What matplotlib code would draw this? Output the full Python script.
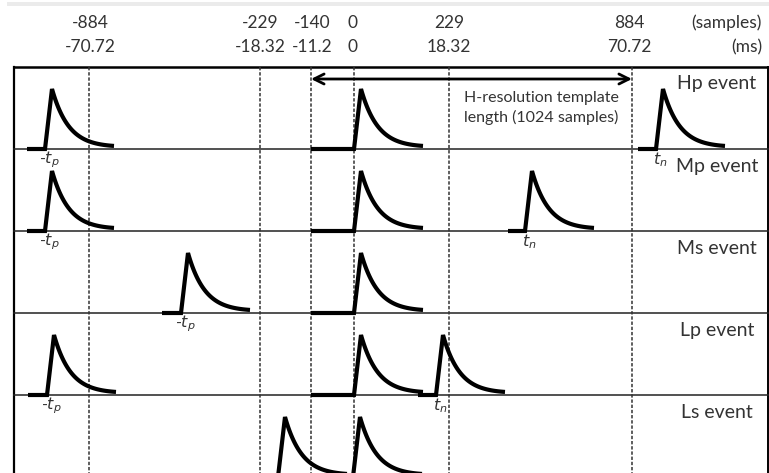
"""
Esquema de eventos (Hp, Mp, Ms, Lp, Ls) y ventana de plantilla H-resolution
"""

import numpy as np
import matplotlib.pyplot as plt

# Datos
muestras = ['-884', '-229', '-140', '0', '229', '884']
ms = ['-70.72', '-18.32', '-11.2', '0', '18.32', '70.72']
eventos = ['Hp event', 'Mp event', 'Ms event', 'Lp event', 'Ls event']

# Posicion esquematica (px) de cada marca temporal (el dibujo no es lineal)
pos_x = [89, 260, 311, 354, 449, 632]
pos_lab = [90, 260, 312, 352, 449, 629]

# Pulsos por fila: (inicio linea base, subida, etiqueta)
pulsos = [
    [(27, 45, '-$t_p$'), (311, 354, None), (638, 656, '$t_n$')],
    [(27, 45, '-$t_p$'), (311, 354, None), (508, 525, '$t_n$')],
    [(162, 181, '-$t_p$'), (311, 354, None)],
    [(28, 47, '-$t_p$'), (311, 354, None), (418, 436, '$t_n$')],
    [(250, 278, None), (311, 353, None)],
]

W, H = 769, 473
fila_top = 67
fila_h = 82
x_izq = 14

fig = plt.figure(figsize=(W / 100, H / 100), dpi=100)
ax = fig.add_axes([0, 0, 1, 1])
ax.set_xlim(0, W)
ax.set_ylim(H, 0)
ax.axis('off')

fuente = 'Lato'
gris = '#333333'

# Banda gris superior
ax.fill_between([7, W], 2, 6, color='#ebebeb', lw=0)

# Etiquetas superiores
for x, s, m in zip(pos_lab, muestras, ms):
    ax.text(x, 23, s, ha='center', va='center', fontsize=12.5, family=fuente, color=gris)
    ax.text(x, 47, m, ha='center', va='center', fontsize=12.5, family=fuente, color=gris)
ax.text(762, 23, '(samples)', ha='right', va='center', fontsize=12.5, family=fuente, color=gris)
ax.text(762, 47, '(ms)', ha='right', va='center', fontsize=12.5, family=fuente, color=gris)

# Marco y filas
ax.plot([x_izq, W - 1], [fila_top, fila_top], color='black', lw=1.8)
ax.plot([x_izq, x_izq], [fila_top, H], color='black', lw=1.6)
ax.plot([W - 1.5, W - 1.5], [fila_top, H], color='black', lw=1.4)
for i in range(1, len(eventos)):
    y = fila_top + i * fila_h
    ax.plot([x_izq, W], [y, y], color='#222222', lw=1.1)

# Lineas discontinuas
for x in pos_x:
    ax.plot([x, x], [fila_top, H], color='#333333', lw=1.1, dashes=(2.2, 1.2))

# Pulsos
alto, sube, decae, tau = 60, 7, 62, 17
for i, fila in enumerate(pulsos):
    base = fila_top + (i + 1) * fila_h
    for x0, x1, lab in fila:
        xd = np.linspace(0, decae, 60)
        xs = np.concatenate([[x0, x1, x1 + sube], x1 + sube + xd])
        ys = np.concatenate([[base, base, base - alto],
                             base - alto * np.exp(-xd / tau) - 1.5 * (xd / decae)])
        ys = np.maximum(ys, base - alto)
        ax.plot(xs, ys, color='black', lw=3, solid_capstyle='butt', solid_joinstyle='miter')
        if lab:
            ax.text(x1 + 4, base + 11, lab, ha='center', va='center', fontsize=11.5,
                    color=gris, family=fuente)

# Etiquetas de evento
for i, ev in enumerate(eventos):
    ax.text(717, fila_top + i * fila_h + 17, ev, ha='center', va='center',
            fontsize=14, family=fuente, color=gris)

# Flecha de la plantilla
ax.annotate('', xy=(311, 79), xytext=(632, 79),
            arrowprops=dict(arrowstyle='<->', color='black', lw=2, shrinkA=0, shrinkB=0,
                            mutation_scale=18))
ax.text(541, 108, 'H-resolution template\nlength (1024 samples)', ha='center', va='center',
        fontsize=11.5, family=fuente, color=gris, linespacing=1.35)

plt.savefig('out.png', dpi=100, facecolor='white')
plt.close()
